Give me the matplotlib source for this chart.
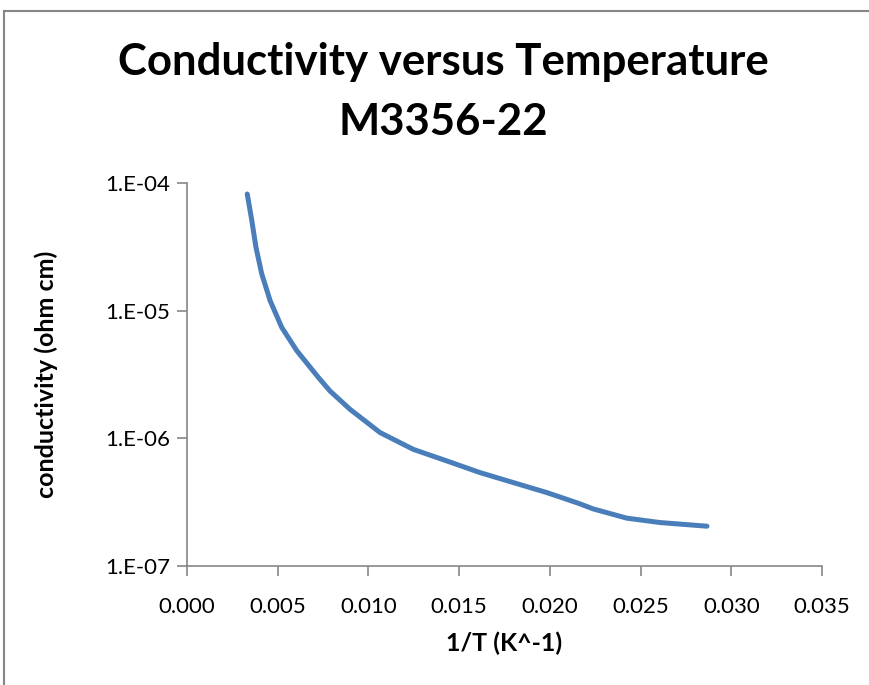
import numpy as np
import matplotlib.pyplot as plt
from matplotlib.patches import Rectangle

# 1/T (K^-1) and conductivity
inv_T = [0.00332, 0.00357, 0.00380, 0.00412, 0.00458, 0.00522, 0.00605,
         0.00724, 0.00788, 0.00898, 0.01064, 0.01247, 0.01431, 0.01615,
         0.01799, 0.01983, 0.02157, 0.02239, 0.02424, 0.02607, 0.02846,
         0.02866]
conductivity = [8.2e-5, 5.1e-5, 3.14e-5, 1.94e-5, 1.2e-5, 7.4e-6, 4.86e-6,
                3.0e-6, 2.35e-6, 1.69e-6, 1.11e-6, 8.2e-7, 6.66e-7, 5.39e-7,
                4.5e-7, 3.76e-7, 3.1e-7, 2.8e-7, 2.37e-7, 2.19e-7, 2.06e-7,
                2.05e-7]

x_ticks = [0.000, 0.005, 0.010, 0.015, 0.020, 0.025, 0.030, 0.035]
y_ticks = [1e-7, 1e-6, 1e-5, 1e-4]
y_ticklabels = ['1.E-07', '1.E-06', '1.E-05', '1.E-04']

plt.rcParams['font.family'] = ['Lato', 'DejaVu Sans']

fig = plt.figure(figsize=(8.69, 6.85), dpi=100)
ax = fig.add_axes([187 / 869, 119 / 685, 635 / 869, 383 / 685])

# outer chart frame (runs off the right and bottom edges)
fig.patches.append(Rectangle((4 / 869, -0.05), 1.0, (685 - 11) / 685 + 0.05,
                             transform=fig.transFigure, fill=False,
                             edgecolor='#868686', linewidth=1.5))

ax.plot(inv_T, conductivity, color='#4A7EBB', linewidth=3.6,
        solid_capstyle='round', solid_joinstyle='round')

ax.set_yscale('log')
ax.set_xlim(0, 0.035)
ax.set_ylim(1e-7, 1e-4)
ax.set_xticks(x_ticks)
ax.set_xticklabels([f'{v:.3f}' for v in x_ticks])
ax.set_yticks(y_ticks)
ax.set_yticklabels(y_ticklabels)
ax.minorticks_off()
ax.tick_params(axis='both', labelsize=16, length=7, width=1.2,
               color='#868686', direction='out')
ax.tick_params(axis='x', pad=15)
ax.tick_params(axis='y', pad=5)

for side in ['top', 'right']:
    ax.spines[side].set_visible(False)
for side in ['left', 'bottom']:
    ax.spines[side].set_color('#868686')
    ax.spines[side].set_linewidth(1.2)

ax.set_xlabel('1/T (K^-1)', fontsize=18, fontweight='bold', labelpad=11)
ax.set_ylabel('conductivity (ohm cm)', fontsize=18, fontweight='bold', labelpad=34)

fig.text(443 / 869, 1 - 62 / 685, 'Conductivity versus Temperature',
         ha='center', va='center', fontsize=31.5, fontweight='bold')
fig.text(443 / 869, 1 - 122 / 685, 'M3356-22',
         ha='center', va='center', fontsize=31.5, fontweight='bold')

fig.savefig('out.png', dpi=100)
